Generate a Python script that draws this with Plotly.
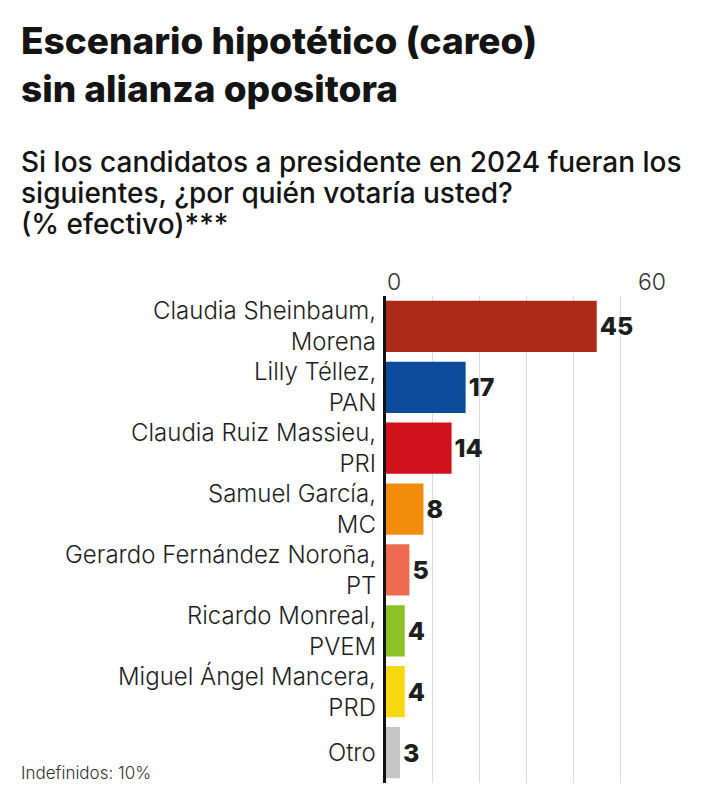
import plotly.graph_objects as go

names = ["Claudia Sheinbaum,", "Lilly Téllez,", "Claudia Ruiz Massieu,", "Samuel García,",
         "Gerardo Fernández Noroña,", "Ricardo Monreal,", "Miguel Ángel Mancera,", "Otro"]
parties = ["Morena", "PAN", "PRI", "MC", "PT", "PVEM", "PRD", ""]
values = [45, 17, 14, 8, 5, 4, 4, 3]
colors = ["#ad2a19", "#0d4b9b", "#d1111b", "#f18d0b", "#ee6b52", "#8dc224", "#f8d90f", "#c6c6c6"]
tick_vals = [0, 60]
tick_text = ["0", "60"]

title_lines = ["Escenario hipotético (careo)", "sin alianza opositora"]
subtitle_lines = ["Si los candidatos a presidente en 2024 fueran los",
                  "siguientes, ¿por quién votaría usted?",
                  "(% efectivo)***"]
note = "Indefinidos: 10%"

OFF = 8  # default page body margin
W, H = 714 - OFF, 811 - OFF
L, R, T, B = 386 - OFF, 666.7 - OFF, 295.5 - OFF, 783 - OFF
pw, ph = R - L, B - T

def px(x):
    return (x - OFF - L) / pw

def py(y):
    return (B - (y - OFF)) / ph

FONT = "Inter"
cats = list(range(len(names)))

fig = go.Figure(go.Bar(
    x=values, y=cats, orientation="h",
    marker=dict(color=colors, line=dict(width=0)),
    texttemplate="%{x}", textposition="outside",
    textfont=dict(family=FONT, size=25, color="#1e1e1e", weight=800),
    cliponaxis=False, width=0.843,
))

ann = []
for i, (n, p) in enumerate(zip(names, parties)):
    label = n + ("<br>" + p if p else "")
    ann.append(dict(x=px(377), y=i, xref="paper", yref="y", text=label, showarrow=False,
                    xanchor="right", yanchor="middle", align="right", borderpad=0,
                    font=dict(family=FONT, size=24, color="#1e1e1e", weight=300)))

for v, t in zip(tick_vals, tick_text):
    ann.append(dict(x=v, y=py(281), xref="x", yref="paper", text=t, showarrow=False,
                    xanchor="left" if v == 0 else "right", yanchor="middle", borderpad=0,
                    font=dict(family=FONT, size=23, color="#333333", weight=300)))

ann.append(dict(x=px(20), y=py(64), xref="paper", yref="paper", text="<br>".join(title_lines),
                showarrow=False, xanchor="left", yanchor="middle", align="left", borderpad=0,
                font=dict(family=FONT, size=37, color="#141414", weight=800)))
for k, t in enumerate(subtitle_lines):
    ann.append(dict(x=px(20), y=py(161 + 31 * k), xref="paper", yref="paper", text=t,
                    showarrow=False, xanchor="left", yanchor="middle", borderpad=0,
                    font=dict(family=FONT, size=28, color="#141414", weight=500)))
ann.append(dict(x=px(20), y=py(773), xref="paper", yref="paper", text=note,
                showarrow=False, xanchor="left", yanchor="middle", borderpad=0,
                font=dict(family=FONT, size=17, color="#333333", weight=300)))

fig.update_layout(
    width=W, height=H,
    margin=dict(l=L, r=W - R, t=T, b=H - B, pad=0),
    paper_bgcolor="white", plot_bgcolor="white",
    showlegend=False, bargap=0.157,
    annotations=ann,
    xaxis=dict(range=[0, 60], dtick=10, showgrid=True, gridcolor="#dcdcdc", gridwidth=1,
               showticklabels=False, zeroline=False, showline=False, fixedrange=True),
    yaxis=dict(range=[len(names) - 0.5, -0.5], showticklabels=False, showgrid=False,
               zeroline=False, showline=True, linecolor="#111111", linewidth=3,
               ticks="", fixedrange=True),
)

fig.write_html("out.html")
